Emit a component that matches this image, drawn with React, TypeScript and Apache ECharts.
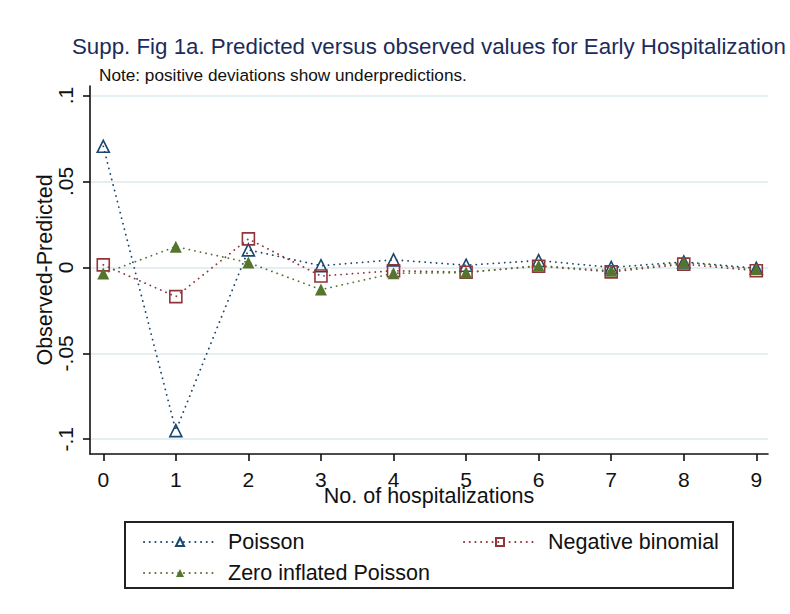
import React, { useEffect, useRef } from "react";
import * as echarts from "echarts";

const categories = [0, 1, 2, 3, 4, 5, 6, 7, 8, 9];
const poisson = [0.0705, -0.095, 0.0102, 0.001, 0.0044, 0.0013, 0.004, 0.0, 0.0032, -0.0005];
const negBin = [0.0015, -0.017, 0.0166, -0.005, -0.0019, -0.0028, 0.0007, -0.0026, 0.0019, -0.0019];
const zip = [-0.0036, 0.0121, 0.0028, -0.0129, -0.0034, -0.003, 0.001, -0.002, 0.0028, -0.001];
const yTicks = [-0.1, -0.05, 0, 0.05, 0.1];
const xTicks = categories;
const seriesNames = ["Poisson", "Negative binomial", "Zero inflated Poisson"];
const titleText = "Supp. Fig 1a. Predicted versus observed values for Early Hospitalization";
const noteText = "Note: positive deviations show underpredictions.";
const yTitle = "Observed-Predicted";
const xTitle = "No. of hospitalizations";

const FONT = "'Liberation Sans', Arial, sans-serif";
const NAVY = "#1a476f";
const MAROON = "#90353b";
const GREEN = "#55752f";

function fmtY(v: number): string {
  if (Math.abs(v) < 1e-12) return "0";
  const s = Math.abs(v).toString().replace(/^0/, "");
  return (v < 0 ? "-" : "") + s;
}

export default function App() {
  const ref = useRef<HTMLDivElement>(null);
  useEffect(() => {
    if (!ref.current) return;
    const chart = echarts.init(ref.current, undefined, { renderer: "svg" });
    const pair = (arr: number[]) => categories.map((c, i) => [c, arr[i]]);
    const lineStyle = (color: string) => ({ color, width: 1.8, type: [0.1, 5.6] as any, cap: "round" as any });
    const legendBase = {
      orient: "horizontal",
      itemWidth: 72,
      itemHeight: 10,
      textStyle: { fontFamily: FONT, fontSize: 21.5, color: "#111", padding: [0, 0, 0, 7] },
      selectedMode: false,
    };
    chart.setOption({
      animation: false,
      backgroundColor: "#ffffff",
      title: [
        {
          text: titleText,
          left: 72,
          top: 35,
          padding: 0,
          textStyle: { fontFamily: FONT, fontSize: 22.3, fontWeight: "normal", color: "#1c2b5a" },
        },
        {
          text: noteText,
          left: 94,
          top: 61,
          textStyle: { fontFamily: FONT, fontSize: 17.2, fontWeight: "normal", color: "#111" },
        },
      ],
      grid: { left: 90, right: 22, top: 86, bottom: 160, containLabel: false },
      xAxis: {
        type: "value",
        min: -0.183,
        max: 9.161,
        name: xTitle,
        nameLocation: "middle",
        nameGap: 31,
        nameMoveOverlap: false,
        nameTextStyle: { fontFamily: FONT, fontSize: 21.5, color: "#111" },
        axisLine: { show: true, onZero: false, lineStyle: { color: "#111", width: 1.6 } },
        axisTick: { show: true, length: 7, customValues: xTicks, lineStyle: { color: "#111", width: 1.6 } },
        axisLabel: {
          customValues: xTicks,
          margin: 15,
          fontFamily: FONT,
          fontSize: 21,
          color: "#111",
          formatter: (v: number) => String(Math.round(v)),
        },
        splitLine: { show: false },
      },
      yAxis: {
        type: "value",
        min: -0.1086,
        max: 0.1056,
        name: yTitle,
        nameLocation: "middle",
        nameRotate: 90,
        nameGap: 34,
        nameMoveOverlap: false,
        nameTextStyle: { fontFamily: FONT, fontSize: 21.5, color: "#111" },
        axisLine: { show: true, onZero: false, lineStyle: { color: "#111", width: 1.6 } },
        axisTick: { show: true, length: 7, customValues: yTicks, lineStyle: { color: "#111", width: 1.6 } },
        axisLabel: {
          customValues: yTicks,
          rotate: 90,
          margin: 14,
          fontFamily: FONT,
          fontSize: 21,
          color: "#111",
          formatter: (v: number) => fmtY(v),
        },
        splitLine: { show: true, lineStyle: { color: "#e6eef1", width: 1.8 } },
      },
      legend: [
        { ...legendBase, data: [seriesNames[0]], left: 138, top: 526 },
        { ...legendBase, data: [seriesNames[1]], left: 458, top: 526 },
        { ...legendBase, data: [seriesNames[2]], left: 138, top: 557 },
      ],
      graphic: [
        {
          type: "rect",
          shape: { x: 125, y: 522, width: 608, height: 66 },
          style: { fill: "none", stroke: "#222", lineWidth: 2 },
          z: 100,
        },
      ],
      series: [
        {
          name: seriesNames[0],
          type: "line",
          data: pair(poisson),
          symbol: "triangle",
          symbolSize: 12,
          showSymbol: true,
          lineStyle: lineStyle(NAVY),
          itemStyle: { color: "rgba(255,255,255,0)", borderColor: NAVY, borderWidth: 1.6 },
          z: 2,
        },
        {
          name: seriesNames[1],
          type: "line",
          data: pair(negBin),
          symbol: "rect",
          symbolSize: 12,
          showSymbol: true,
          lineStyle: lineStyle(MAROON),
          itemStyle: { color: "rgba(255,255,255,0)", borderColor: MAROON, borderWidth: 1.6 },
          z: 3,
        },
        {
          name: seriesNames[2],
          type: "line",
          data: pair(zip),
          symbol: "triangle",
          symbolSize: 12,
          showSymbol: true,
          lineStyle: lineStyle(GREEN),
          itemStyle: { color: GREEN, borderColor: GREEN, borderWidth: 0 },
          z: 4,
        },
      ],
    });
    return () => chart.dispose();
  }, []);
  return <div ref={ref} style={{ width: 790, height: 614, position: "absolute", left: 0, top: 0 }} />;
}
